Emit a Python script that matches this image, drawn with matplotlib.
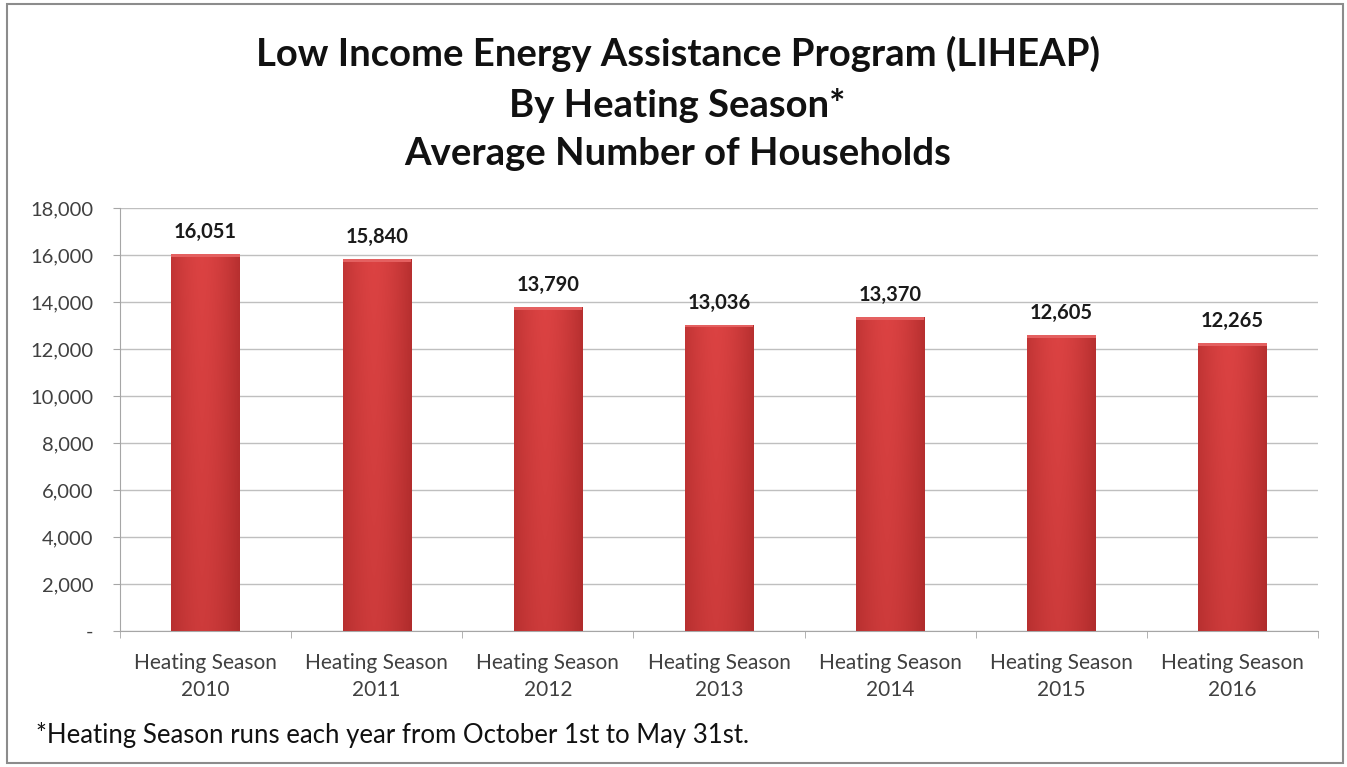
import matplotlib
matplotlib.use("Agg")
import matplotlib.pyplot as plt
import numpy as np
from matplotlib.patches import Rectangle
from matplotlib.ticker import FuncFormatter

categories = ["Heating Season\n2010", "Heating Season\n2011", "Heating Season\n2012",
              "Heating Season\n2013", "Heating Season\n2014", "Heating Season\n2015",
              "Heating Season\n2016"]
values = [16051, 15840, 13790, 13036, 13370, 12605, 12265]
yticks = [0, 2000, 4000, 6000, 8000, 10000, 12000, 14000, 16000, 18000]
title = "Low Income Energy Assistance Program (LIHEAP)\nBy Heating Season*\nAverage Number of Households"
footnote = "*Heating Season runs each year from October 1st to May 31st."

plt.rcParams['font.family'] = ['Lato', 'DejaVu Sans']

fig = plt.figure(figsize=(13.47, 7.67), dpi=100)
fig.patch.set_facecolor('white')
# outer frame
fig.patches.append(Rectangle((0.005, 0.005), 0.992, 0.99, transform=fig.transFigure,
                             fill=False, edgecolor='#8c8c8c', linewidth=1.5))

ax = fig.add_axes([0.0891, 0.1773, 0.8894, 0.5515])
x = np.arange(len(values))
bars = ax.bar(x, values, width=0.4, color='#d33a3a', zorder=2)

# gradient shading on bars
h = np.linspace(0, 1, 200)
prof = 1 - 0.55 * np.abs(h - 0.45) ** 1.6 * 2.2
prof = np.clip(prof, 0, 1)
base_light = np.array([0.86, 0.26, 0.26])
base_dark = np.array([0.55, 0.10, 0.10])
for b in bars:
    bx, by = b.get_x(), b.get_y()
    bw, bh = b.get_width(), b.get_height()
    vert = np.linspace(0.82, 1.0, 100)[:, None]
    t = prof[None, :] * vert
    img = base_dark[None, None, :] + (base_light - base_dark)[None, None, :] * t[:, :, None]
    im = ax.imshow(img, extent=[bx, bx + bw, by, by + bh], origin='lower', aspect='auto',
                   zorder=3, interpolation='bilinear')
    im.set_clip_path(b)
    ax.add_patch(Rectangle((bx, by + bh - 120), bw, 120, color='#e46060', zorder=4, lw=0))
    ax.text(bx + bw / 2, by + bh + 500, f"{b.get_height():,.0f}", ha='center', va='bottom',
            fontsize=14.5, fontweight='bold', color='#1a1a1a')

ax.set_xlim(-0.5, len(values) - 0.5)
ax.set_ylim(0, 18000)
ax.set_yticks(yticks)
ax.yaxis.set_major_formatter(FuncFormatter(lambda v, p: "-" if v == 0 else f"{v:,.0f}"))
ax.grid(axis='y', color='#bfbfbf', linewidth=1.0, zorder=0)
ax.set_axisbelow(True)
ax.set_xticks(x)
ax.set_xticklabels(categories, fontsize=15, color='#404040', linespacing=1.45)
ax.set_xticks(np.arange(-0.5, len(values)), minor=True)
ax.tick_params(axis='x', which='major', length=0, pad=16)
ax.tick_params(axis='x', which='minor', length=5, color='#a6a6a6')
ax.tick_params(axis='y', labelsize=14.5, labelcolor='#404040', length=5, color='#a6a6a6', pad=14)
for s in ['top', 'right']:
    ax.spines[s].set_visible(False)
ax.spines['left'].set_color('#a6a6a6')
ax.spines['bottom'].set_color('#a6a6a6')

fig.text(0.503, 0.953, title, ha='center', va='top', fontsize=27.5, fontweight='bold',
         color='#111111', linespacing=1.53)
fig.text(0.027, 0.025, footnote, ha='left', va='bottom', fontsize=18.5, color='#111111')

fig.savefig("out.png", dpi=100, facecolor='white')
